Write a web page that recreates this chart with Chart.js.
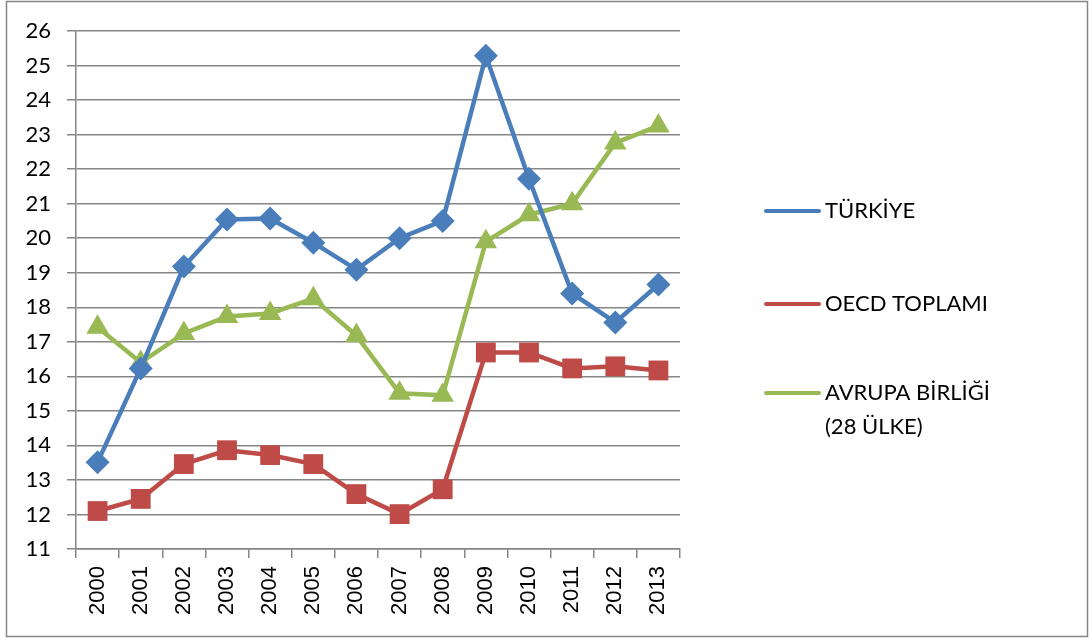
<!DOCTYPE html>
<html><head><meta charset="utf-8">
<script src="https://cdn.jsdelivr.net/npm/chart.js@4"></script>
<style>html,body{margin:0;padding:0;background:#fff}#wrap{width:1092px;height:641px;position:relative}</style>
</head><body><div id="wrap"><canvas id="c" width="1092" height="641"></canvas></div>
<script>
const years = ['2000','2001','2002','2003','2004','2005','2006','2007','2008','2009','2010','2011','2012','2013'];
const turkiye = [13.51, 16.23, 19.18, 20.54, 20.57, 19.87, 19.09, 20.0, 20.5, 25.28, 21.72, 18.4, 17.56, 18.66];
const oecd = [12.10, 12.45, 13.46, 13.86, 13.72, 13.46, 12.59, 12.01, 12.73, 16.69, 16.69, 16.23, 16.29, 16.17];
const ab = [17.42, 16.4, 17.24, 17.73, 17.82, 18.25, 17.18, 15.51, 15.45, 19.9, 20.68, 21.0, 22.76, 23.25];
const seriesNames = ['TÜRKİYE', 'OECD TOPLAMI', ['AVRUPA BİRLİĞİ', '(28 ÜLKE)']];

const FONT = 'Lato, "Open Sans", sans-serif';
const XFONT = '"Liberation Sans", Arial, sans-serif';
const legendPlugin = {
  id: 'customLegend',
  afterDraw(chart) {
    const ctx = chart.ctx;
    ctx.save();
    ctx.strokeStyle = '#868686';
    ctx.lineWidth = 1.5;
    ctx.strokeRect(6.5, 1.5, 1081, 635);
    const ys = [211, 304, 393];
    chart.data.datasets.forEach((ds, i) => {
      const y = ys[i];
      ctx.strokeStyle = ds.borderColor;
      ctx.lineWidth = 4;
      ctx.lineCap = 'round';
      ctx.beginPath(); ctx.moveTo(766, y); ctx.lineTo(819, y); ctx.stroke();
      ctx.fillStyle = ds.backgroundColor;
      Chart.helpers.drawPoint(ctx, {pointStyle: ds.pointStyle, rotation: 0, borderWidth: 0}, 792, y, ds.pointRadius * 0.75);
      ctx.fillStyle = '#000';
      ctx.font = '22px ' + FONT;
      ctx.textBaseline = 'middle';
      const lbl = Array.isArray(ds.label) ? ds.label : [ds.label];
      lbl.forEach((t, k) => ctx.fillText(t, 825, y + k * 34));
    });
    ctx.restore();
  }
};

new Chart(document.getElementById('c'), {
  type: 'line',
  data: {
    labels: years,
    datasets: [
      {label: seriesNames[0], data: turkiye, borderColor: '#4A7EBB', backgroundColor: '#4A7EBB', pointStyle: 'rectRot', pointRadius: 12, borderWidth: 4.5, pointBorderWidth: 0},
      {label: seriesNames[1], data: oecd, borderColor: '#BE4B48', backgroundColor: '#BE4B48', pointStyle: 'rect', pointRadius: 14, borderWidth: 4.5, pointBorderWidth: 0},
      {label: seriesNames[2], data: ab, borderColor: '#98B954', backgroundColor: '#98B954', pointStyle: 'triangle', pointRadius: 13, borderWidth: 4.5, pointBorderWidth: 0}
    ]
  },
  options: {
    responsive: false,
    animation: false,
    devicePixelRatio: 1,
    layout: {padding: {left: 0, top: 31, right: 412, bottom: 0}},
    plugins: {legend: {display: false}, tooltip: {enabled: false}},
    elements: {line: {tension: 0}},
    scales: {
      x: {
        offset: true,
        afterFit: s => { s.height = 92; },
        grid: {offset: true, drawOnChartArea: false, drawTicks: true, tickLength: 9, color: '#868686', lineWidth: 1.5},
        border: {color: '#868686', width: 1.5},
        ticks: {minRotation: 90, maxRotation: 90, color: '#000', font: {family: XFONT, size: 22}, padding: 8, autoSkip: false}
      },
      y: {
        min: 11, max: 26,
        afterFit: s => { s.width = 76; },
        grid: {color: '#868686', lineWidth: 1.5, tickLength: 9},
        border: {color: '#868686', width: 1.5},
        ticks: {stepSize: 1, color: '#000', font: {family: FONT, size: 22}, padding: 16}
      }
    }
  },
  plugins: [legendPlugin]
});
</script></body></html>
